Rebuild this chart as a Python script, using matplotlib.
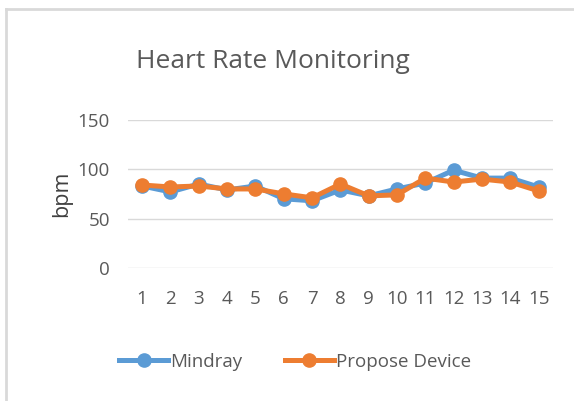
import matplotlib
matplotlib.use('Agg')
import matplotlib.pyplot as plt

# values
samples = list(range(1, 16))
mindray = [83, 77, 85, 79, 83, 70, 68, 79, 73, 80, 86, 99, 91, 91, 82]
propose = [84, 82, 83, 80, 80, 75, 71, 85, 73, 74, 91, 87, 90, 87, 78]
yticks = [0, 50, 100, 150]

plt.rcParams['font.family'] = ['Open Sans', 'DejaVu Sans']

fig = plt.figure(figsize=(5.74, 4.01), dpi=100)
ax = fig.add_axes([0.223, 0.332, 0.74, 0.369])

# outer chart border (only top and left visible in the reference)
fig.add_artist(plt.Line2D([6/574, 1], [1-9/401, 1-9/401], color='#d9d9d9', lw=2, transform=fig.transFigure))
fig.add_artist(plt.Line2D([6/574, 6/574], [0, 1-9/401], color='#d9d9d9', lw=2, transform=fig.transFigure))

ax.plot(samples, mindray, color='#5B9BD5', lw=3.6, marker='o', ms=9.5, label='Mindray')
ax.plot(samples, propose, color='#ED7D31', lw=3.6, marker='o', ms=9.5, label='Propose Device')

ax.set_xlim(0.5, 15.5)
ax.set_ylim(0, 150)
ax.set_yticks(yticks)
ax.set_xticks(samples)
ax.yaxis.grid(True, color='#d9d9d9', lw=1)
ax.set_axisbelow(True)
for s in ax.spines.values():
    s.set_visible(False)
ax.tick_params(length=0, labelsize=13.5, labelcolor='#595959')
ax.tick_params(axis='y', pad=13)
ax.tick_params(axis='x', pad=16)

ax.set_ylabel('bpm', fontsize=15.5, color='#404040', labelpad=4)
fig.text(273/574, 1-62/401, 'Heart Rate Monitoring', fontsize=19, color='#595959', ha='center', va='center')

ax.legend(loc='center', bbox_to_anchor=(295/574, 1-362/401), bbox_transform=fig.transFigure,
          ncol=2, frameon=False, fontsize=13.5, labelcolor='#595959', handlelength=2.6, columnspacing=2.3,
          handletextpad=0.1)

plt.savefig('out.png', dpi=100)
